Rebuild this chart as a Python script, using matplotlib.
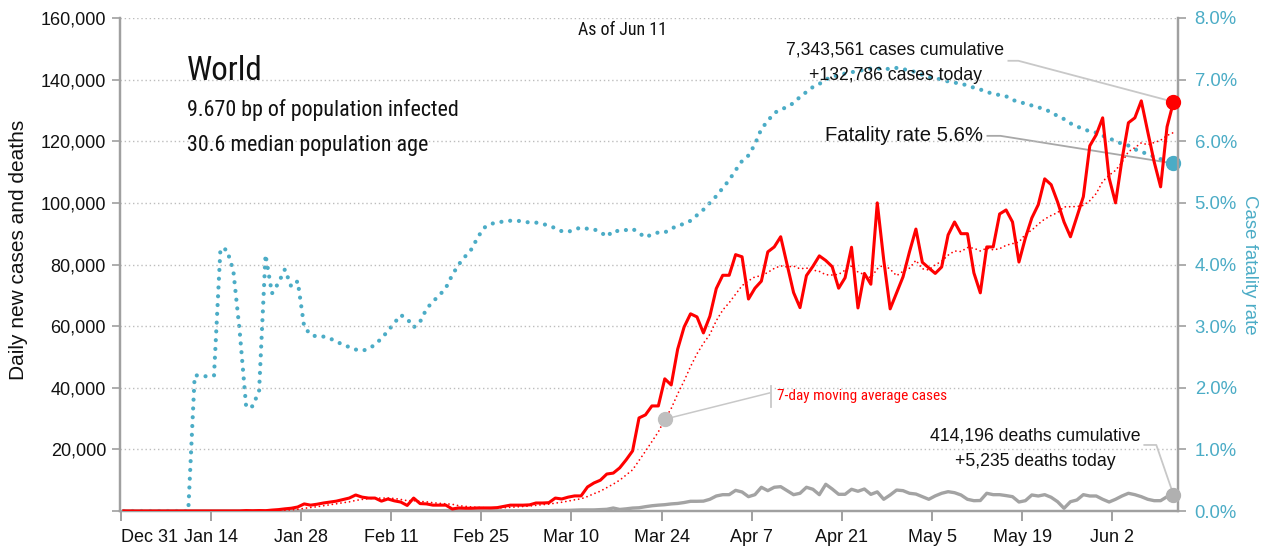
import os
import numpy as np
import pandas as pd
import matplotlib
matplotlib.use("Agg")
import matplotlib.pyplot as plt
from matplotlib import font_manager as fm
from matplotlib.textpath import TextPath

# ---------------- data (Dec 31 .. Jun 11, one value per day) ----------------
tick_days = [0, 14, 28, 42, 56, 70, 84, 98, 112, 126, 140, 154]
tick_labels = ['Dec 31', 'Jan 14', 'Jan 28', 'Feb 11', 'Feb 25', 'Mar 10',
               'Mar 24', 'Apr 7', 'Apr 21', 'May 5', 'May 19', 'Jun 2']

daily_cases = [
    27, 0, 0, 0, 15, 0, 0, 0, 0, 0,
    0, 0, 0, 1, 0, 4, 4, 4, 17, 136,
    80, 150, 100, 300, 450, 700, 900, 1300, 2300, 1900,
    2200, 2600, 2900, 3200, 3700, 4200, 5200, 4500, 4200, 4200,
    3200, 3900, 3300, 2900, 1800, 4200, 2400, 2300, 1900, 1900,
    1900, 650, 1000, 900, 900, 1000, 1000, 1000, 1100, 1500,
    1900, 1900, 1900, 2000, 2600, 2600, 2700, 4200, 3900, 4500,
    4900, 4900, 7800, 9100, 10000, 12000, 12300, 14000, 16600, 19500,
    30200, 31200, 34100, 34100, 42900, 40900, 52500, 59700, 64000, 63000,
    57800, 63200, 72200, 76500, 76500, 83200, 82500, 68800, 72300, 74600,
    84100, 85700, 89000, 79900, 70900, 66000, 76400, 79400, 82800, 81300,
    79300, 72300, 75700, 85600, 65900, 77100, 73600, 100000, 81500, 65600,
    70800, 76000, 84100, 91500, 80700, 78900, 77100, 79200, 89600, 93800,
    90000, 90000, 77300, 70800, 85700, 85700, 96400, 97700, 93800, 80800,
    88600, 95100, 99400, 107800, 105900, 100300, 93800, 89000, 95500, 102000,
    118500, 122100, 127600, 108100, 100000, 114000, 126000, 127600, 133100, 123100,
    113300, 105200, 124700, 132786,
]

daily_deaths = [
    0, 0, 0, 0, 0, 0, 0, 0, 0, 0,
    0, 1, 0, 0, 0, 0, 0, 0, 0, 1,
    3, 9, 8, 16, 15, 16, 15, 24, 26, 26,
    38, 43, 46, 45, 57, 64, 65, 73, 73, 86,
    89, 97, 108, 97, 146, 121, 143, 142, 106, 98,
    139, 116, 120, 11, 31, 60, 18, 70, 52, 30,
    61, 59, 71, 98, 86, 107, 104, 195, 205, 209,
    277, 350, 336, 354, 440, 550, 970, 500, 700, 950,
    1050, 1400, 1700, 1900, 2050, 2300, 2450, 2750, 3150, 3150,
    3200, 3800, 4870, 5300, 5300, 6700, 6170, 4650, 5300, 7700,
    6600, 7700, 7900, 6600, 5300, 5750, 7700, 7050, 5300, 8670,
    7140, 5420, 5420, 7050, 6400, 7140, 5400, 6200, 3800, 5200,
    6800, 6600, 5750, 5500, 4650, 3800, 4900, 5750, 6270, 5940,
    5200, 3800, 3350, 3400, 5750, 5300, 5300, 5000, 4650, 2920,
    3350, 5200, 4870, 5300, 4450, 3020, 880, 3020, 3570, 5300,
    4870, 4870, 3800, 2920, 3800, 4870, 5750, 5300, 4650, 3800,
    3350, 3350, 4650, 5235,
]

fatality_rate_pct = [
    0, 0, 0, 0, 0, 0, 0, 0, 0, 0,
    0, 2.2, 2.2, 2.18, 2.2, 4.26, 4.24, 3.9, 2.9, 1.68,
    1.7, 1.95, 4.16, 3.53, 3.7, 3.92, 3.64, 3.73, 2.99, 2.86,
    2.83, 2.83, 2.8, 2.75, 2.7, 2.66, 2.62, 2.6, 2.63, 2.7,
    2.8, 2.92, 3.05, 3.18, 3.12, 2.98, 3.07, 3.28, 3.4, 3.5,
    3.62, 3.83, 4.0, 4.13, 4.25, 4.45, 4.6, 4.66, 4.68, 4.7,
    4.71, 4.71, 4.7, 4.68, 4.68, 4.66, 4.63, 4.59, 4.54, 4.53,
    4.57, 4.6, 4.58, 4.57, 4.53, 4.45, 4.55, 4.54, 4.56, 4.58,
    4.51, 4.44, 4.49, 4.52, 4.52, 4.58, 4.63, 4.66, 4.71, 4.8,
    4.89, 5.0, 5.11, 5.24, 5.37, 5.53, 5.68, 5.77, 5.95, 6.2,
    6.33, 6.46, 6.51, 6.56, 6.62, 6.72, 6.8, 6.88, 6.93, 7.0,
    7.05, 7.07, 7.1, 7.12, 7.14, 7.16, 7.18, 7.18, 7.18, 7.17,
    7.19, 7.17, 7.15, 7.12, 7.08, 7.04, 7.02, 7.0, 6.97, 6.95,
    6.94, 6.9, 6.87, 6.84, 6.8, 6.77, 6.75, 6.73, 6.67, 6.64,
    6.61, 6.58, 6.55, 6.52, 6.47, 6.41, 6.36, 6.29, 6.24, 6.2,
    6.16, 6.14, 6.09, 6.05, 6.0, 5.96, 5.93, 5.87, 5.83, 5.79,
    5.75, 5.71, 5.68, 5.64,
]

cum_cases_text = "7,343,561 cases cumulative"
today_cases_text = "+132,786 cases today"
cum_deaths_text = "414,196 deaths cumulative"
today_deaths_text = "+5,235 deaths today"
fatality_text = "Fatality rate 5.6%"
title_text = "World"
sub1_text = "9.670 bp of population infected"
sub2_text = "30.6 median population age"
asof_text = "As of Jun 11"
ma_text = "7-day moving average cases"
left_label = "Daily new cases and deaths"
right_label = "Case fatality rate"

# ---------------- fonts ----------------
def pick_condensed():
    prefs = ['liberationsansnarrow-regular', 'robotocondensed-regular',
             'notosans-condensed.', 'notosans-semicondensed.',
             'opensans-condensed', 'dejavusanscondensed.']
    files = {}
    for f in fm.fontManager.ttflist:
        files[os.path.basename(f.fname).lower()] = f.fname
    for p in prefs:
        for b, path in files.items():
            if b.startswith(p):
                return path
    for b, path in files.items():
        if ('narrow' in b or 'condensed' in b) and not any(
                k in b for k in ['bold', 'italic', 'oblique', 'light', 'thin', 'black', 'medium']):
            return path
    return None

COND_PATH = pick_condensed()

def fc(size):
    if COND_PATH:
        return fm.FontProperties(fname=COND_PATH, size=size)
    return fm.FontProperties(family='DejaVu Sans', size=size)

_w = TextPath((0, 0), sub1_text, size=10, prop=fc(10)).get_extents().width * 100 / 72
SCALE = (270.0 / _w * 10) / 17.3

def C(size):            # condensed face, size relative to the subtitle
    return fc(size * SCALE)

def R(size):            # regular-width face
    return fm.FontProperties(family=['Liberation Sans', 'DejaVu Sans'], size=size)

# ---------------- derived ----------------
cases = np.array(daily_cases, dtype=float)
deaths = np.array(daily_deaths, dtype=float)
cfr = np.array(fatality_rate_pct, dtype=float)
n = len(cases)
x = np.arange(n) + 0.5          # each day drawn at its centre
ma7 = pd.Series(cases).rolling(7, min_periods=1).mean().values

RED = '#ff0000'
TEAL = '#4bacc6'
GRAY = '#a3a3a3'
AXC = '#a0a0a0'
LEAD = '#c8c8c8'
INK = '#111111'

fig = plt.figure(figsize=(12.69, 5.5), dpi=100)
ax = fig.add_axes([120 / 1269, 39 / 550, (1178 - 120) / 1269, (511 - 18) / 550])
ax2 = ax.twinx()
ax.set_zorder(ax2.get_zorder() + 1)
ax.patch.set_visible(False)

ax.set_xlim(-0.1, 164.2)
ax.set_ylim(0, 160000)
ax2.set_ylim(0, 8)

for v in range(20000, 160001, 20000):
    ax.axhline(v, color='#bdbdbd', lw=1.0, ls=(0, (1, 2)), zorder=0)

ax2.plot(x, cfr, color=TEAL, lw=3.0, ls=(0, (0.01, 2.1)),
         dash_capstyle='round', zorder=2)
ax.plot(x, deaths, color=GRAY, lw=2.4, zorder=3, solid_joinstyle='round')
ax.plot(x, ma7, color=RED, lw=1.3, ls=(0, (0.01, 2.4)),
        dash_capstyle='round', zorder=4)
ax.plot(x, cases, color=RED, lw=2.2, zorder=5, solid_joinstyle='round')

ax.spines['top'].set_visible(False)
ax2.spines['top'].set_visible(False)
for a in (ax, ax2):
    for s in ['left', 'bottom', 'right']:
        a.spines[s].set_color(AXC)
        a.spines[s].set_linewidth(1.6)

ax.set_xticks(tick_days)
ax.set_xticklabels(tick_labels)
ax.tick_params(axis='x', direction='out', length=7, width=1.4, color=AXC, pad=6)
for lbl in ax.get_xticklabels():
    lbl.set_fontproperties(R(13))
    lbl.set_color(INK)
ax.get_xticklabels()[0].set_horizontalalignment('left')

yt = list(range(0, 160001, 20000))
ax.set_yticks(yt)
ax.set_yticklabels([''] + [f"{v:,}" for v in yt[1:]])
ax.tick_params(axis='y', direction='out', length=6, width=1.2, color=AXC, pad=4)
for lbl in ax.get_yticklabels():
    lbl.set_fontproperties(R(13))
    lbl.set_color(INK)

rt = list(range(0, 9))
ax2.set_yticks(rt)
ax2.set_yticklabels([f"{v:.1f}%" for v in rt])
ax2.tick_params(axis='y', direction='out', length=6, width=1.2, color=AXC, pad=6)
for lbl in ax2.get_yticklabels():
    lbl.set_fontproperties(R(13.3))
    lbl.set_color(TEAL)

ax.set_ylabel(left_label, fontproperties=R(15), color=INK)
ax.yaxis.set_label_coords(-92 / 1058, (511 - 250) / 493)
ax2.set_ylabel(right_label, fontproperties=R(13.4), color=TEAL, rotation=270)
ax2.yaxis.set_label_coords(1 + 80 / 1058, 0.5)

# ---------------- annotations ----------------
def px2x(px):
    return (px - 120.6) / 6.444

def py2y(py):
    return (511 - py) * 324.7

def py2p(py):
    return (511 - py) / 61.6

ax.text(px2x(623), py2y(30), asof_text, ha='center', va='center', fontproperties=C(14), color=INK)
ax.text(px2x(187), py2y(71), title_text, ha='left', va='center', fontproperties=C(26), color=INK)
ax.text(px2x(187), py2y(110), sub1_text, ha='left', va='center', fontproperties=C(17.3), color=INK)
ax.text(px2x(187), py2y(146), sub2_text, ha='left', va='center', fontproperties=C(17.3), color=INK)

last = x[-1]
ax.text(px2x(896), py2y(50), cum_cases_text, ha='center', va='center', fontproperties=R(12.7), color=INK, zorder=6)
ax.text(px2x(896), py2y(76), today_cases_text, ha='center', va='center', fontproperties=R(12.7), color=INK, zorder=6)
ax.plot([px2x(1009), px2x(1019), last], [py2y(61), py2y(61), cases[-1]],
        color=LEAD, lw=1.3, zorder=6)
ax.plot([last], [cases[-1]], 'o', color=RED, ms=10, zorder=7, clip_on=False)

ax.text(px2x(984), py2y(136), fatality_text, ha='right', va='center', fontproperties=R(14.6), color=INK, zorder=6)
ax2.plot([px2x(988), px2x(1001), last], [py2p(136), py2p(136), cfr[-1]],
         color='#a8a8a8', lw=1.3, zorder=6)
ax2.plot([last], [cfr[-1]], 'o', color=TEAL, ms=10, zorder=7, clip_on=False)

ax.text(px2x(1036), py2y(436), cum_deaths_text, ha='center', va='center', fontproperties=R(12.7), color=INK, zorder=6)
ax.text(px2x(1036), py2y(462), today_deaths_text, ha='center', va='center', fontproperties=R(12.7), color=INK, zorder=6)
ax.plot([px2x(1145), px2x(1157), last], [py2y(445), py2y(445), deaths[-1]],
        color=LEAD, lw=1.3, zorder=6)
ax.plot([last], [deaths[-1]], 'o', color='#b0b0b0', ms=10, zorder=7, clip_on=False)

ma_i = 84
ax.plot([x[ma_i]], [ma7[ma_i]], 'o', color='#bfbfbf', ms=10, zorder=7)
ax.plot([x[ma_i], px2x(770)], [ma7[ma_i], py2y(393)], color=LEAD, lw=1.1, zorder=6)
ax.plot([px2x(771), px2x(771)], [py2y(386), py2y(407)], color=LEAD, lw=1.3, zorder=6)
ax.text(px2x(777), py2y(396), ma_text, ha='left', va='center',
        fontproperties=C(12), color=RED, zorder=6)

fig.savefig("out.png", dpi=100)
